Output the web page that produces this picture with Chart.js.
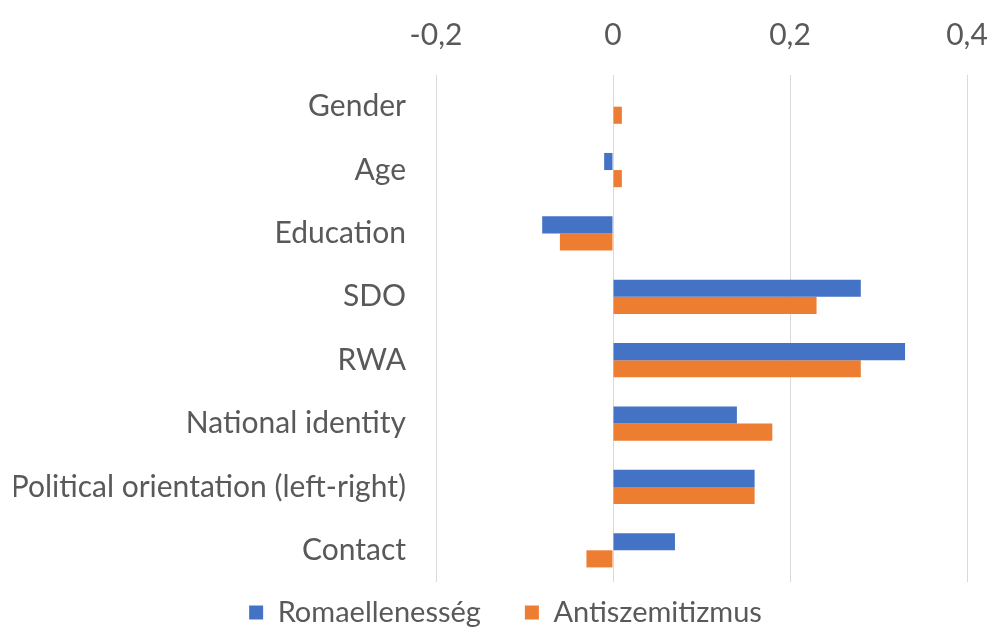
<!DOCTYPE html>
<html>
<head>
<meta charset="utf-8">
<script src="https://cdn.jsdelivr.net/npm/chart.js@4/dist/chart.umd.min.js"></script>
<style>
html,body{margin:0;padding:0;background:#fff;}
#wrap{width:990px;height:630px;position:relative;}
</style>
</head>
<body>
<div id="wrap"><canvas id="c"></canvas></div>
<script>
const categories = ["Gender","Age","Education","SDO","RWA","National identity","Political orientation (left-right)","Contact"];
const romaellenesseg = [0, -0.01, -0.08, 0.28, 0.33, 0.14, 0.16, 0.07];
const antiszemitizmus = [0.01, 0.01, -0.06, 0.23, 0.28, 0.18, 0.16, -0.03];
const seriesNames = ["Romaellenesség","Antiszemitizmus"];
const xTicks = [-0.2, 0, 0.2, 0.4];

const FONT = "Lato, 'Open Sans', sans-serif";
const legendShift = {
  id: 'legendShift',
  afterLayout(chart) {
    const lg = chart.legend;
    if (lg) { lg.top -= 28; lg.bottom -= 28; lg.left += 15; lg.right += 15; }
  }
};
new Chart(document.getElementById('c'), {
  type: 'bar',
  data: {
    labels: categories,
    datasets: [
      {label: seriesNames[0], data: romaellenesseg, backgroundColor: '#4472C4', borderWidth: 0},
      {label: seriesNames[1], data: antiszemitizmus, backgroundColor: '#ED7D31', borderWidth: 0}
    ]
  },
  plugins: [legendShift],
  options: {
    indexAxis: 'y',
    responsive: true,
    maintainAspectRatio: false,
    animation: false,
    layout: {padding: {left: 14, right: 23, top: 13, bottom: -70}},
    datasets: {bar: {categoryPercentage: 0.54, barPercentage: 1}},
    plugins: {
      legend: {
        position: 'bottom',
        labels: {boxWidth: 14, boxHeight: 14, padding: 44, color: '#595959', font: {family: FONT, size: 29}}
      },
      tooltip: {enabled: false}
    },
    scales: {
      x: {
        position: 'top',
        min: -0.2, max: 0.4,
        afterBuildTicks: (axis) => { axis.ticks = xTicks.map(v => ({value: v})); },
        afterFit: (s) => { s.height = 62; s.paddingLeft = 0; s.paddingRight = 0; },
        ticks: {
          color: '#595959', padding: 22,
          font: {family: FONT, size: 30},
          callback: (v) => (Math.round(v*10)/10).toString().replace('.', ',')
        },
        grid: {color: '#d9d9d9', lineWidth: 1, drawTicks: false},
        border: {display: false}
      },
      y: {
        afterFit: (s) => { s.width = 422; },
        ticks: {color: '#595959', padding: 30, font: {family: FONT, size: 30}},
        grid: {display: false, drawTicks: false},
        border: {display: false}
      }
    }
  }
});
</script>
</body>
</html>
